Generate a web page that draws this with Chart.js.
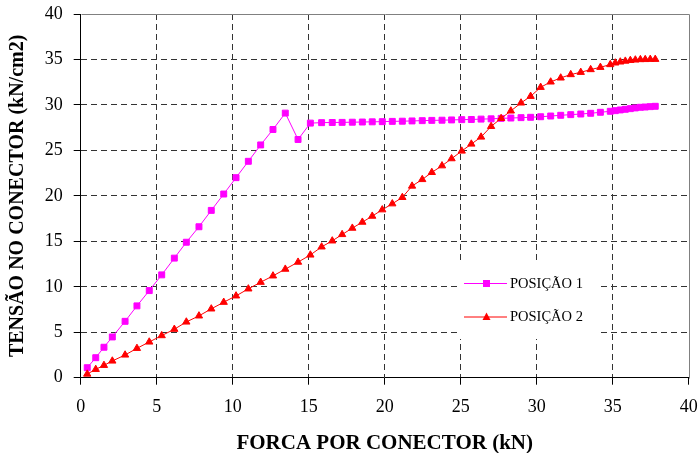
<!DOCTYPE html>
<html>
<head>
<meta charset="utf-8">
<script src="https://cdn.jsdelivr.net/npm/chart.js"></script>
<style>
  body { margin: 0; background: #fff; }
  #wrap { width: 700px; height: 453px; position: relative; }
</style>
</head>
<body>
<div id="wrap"><canvas id="chart-tensao"></canvas></div>
<script>
// forca por conector (kN) - same load steps for both positions
var forca = [0.43, 0.99, 1.53, 2.08, 2.92, 3.70, 4.51, 5.33, 6.16, 6.95,
  7.78, 8.59, 9.41, 10.22, 11.03, 11.84, 12.65, 13.46, 14.30, 15.11,
  15.85, 16.55, 17.20, 17.87, 18.53, 19.18, 19.84, 20.50, 21.16, 21.80,
  22.47, 23.10, 23.77, 24.40, 25.07, 25.70, 26.34, 27.00, 27.66, 28.30,
  28.97, 29.60, 30.26, 30.92, 31.58, 32.24, 32.90, 33.55, 34.19, 34.84,
  35.17, 35.50, 35.83, 36.16, 36.49, 36.82, 37.14, 37.47, 37.80];

// tensao (kN/cm2)
var posicao1 = [1.1, 2.2, 3.35, 4.48, 6.2, 7.9, 9.58, 11.31, 13.15, 14.9,
  16.6, 18.4, 20.2, 22.0, 23.8, 25.6, 27.3, 29.1, 26.2, 28.0,
  28.05, 28.07, 28.08, 28.1, 28.12, 28.14, 28.16, 28.19, 28.21, 28.24,
  28.27, 28.3, 28.32, 28.35, 28.38, 28.4, 28.44, 28.47, 28.52, 28.56,
  28.6, 28.64, 28.7, 28.78, 28.86, 28.93, 29.0, 29.08, 29.19, 29.3,
  29.37, 29.45, 29.52, 29.59, 29.67, 29.74, 29.77, 29.81, 29.85];

var posicao2 = [0.4, 0.92, 1.36, 1.84, 2.5, 3.23, 3.93, 4.63, 5.33, 6.13,
  6.8, 7.57, 8.3, 9.0, 9.77, 10.5, 11.2, 11.94, 12.71, 13.5,
  14.39, 15.05, 15.75, 16.45, 17.11, 17.77, 18.47, 19.13, 19.83, 21.08,
  21.8, 22.58, 23.31, 24.09, 24.93, 25.7, 26.47, 27.64, 28.52, 29.34,
  30.22, 30.95, 31.94, 32.53, 32.97, 33.34, 33.59, 33.89, 34.14, 34.44,
  34.62, 34.73, 34.82, 34.9, 34.95, 34.99, 35.0, 35.02, 35.02];

var nomes = ['POSIÇÃO 1', 'POSIÇÃO 2'];
var ticksX = [0, 5, 10, 15, 20, 25, 30, 35, 40];
var ticksY = [0, 5, 10, 15, 20, 25, 30, 35, 40];

function pares(xs, ys) {
  return xs.map(function (x, i) { return { x: x, y: ys[i] }; });
}

var serif = "'Liberation Serif', 'Times New Roman', serif";

// gray frame on top/right of plot area
var moldura = {
  id: 'moldura',
  beforeDatasetsDraw: function (chart) {
    var a = chart.chartArea, c = chart.ctx;
    c.save();
    c.strokeStyle = '#808080';
    c.lineWidth = 1;
    c.beginPath();
    c.moveTo(Math.round(a.left) + 0.5, Math.round(a.top) + 0.5);
    c.lineTo(Math.round(a.right) + 0.5, Math.round(a.top) + 0.5);
    c.lineTo(Math.round(a.right) + 0.5, Math.round(a.bottom) + 0.5);
    c.stroke();
    c.restore();
  }
};

// legend box inside the plot
var legenda = {
  id: 'legenda',
  afterDatasetsDraw: function (chart) {
    var c = chart.ctx;
    var bx = 457, by = 261, bw = 140, bh = 78;
    c.save();
    c.fillStyle = '#fff';
    c.fillRect(bx, by, bw, bh);
    var rows = [283, 316.5];
    chart.data.datasets.forEach(function (ds, i) {
      var y = rows[i];
      c.strokeStyle = ds.borderColor;
      c.lineWidth = 1;
      c.beginPath();
      c.moveTo(464, y + 0.5);
      c.lineTo(507, y + 0.5);
      c.stroke();
      c.fillStyle = ds.backgroundColor;
      var cx = 486.5;
      if (ds.pointStyle === 'rect') {
        c.fillRect(cx - 3.5, y - 3, 7, 7);
      } else {
        c.beginPath();
        c.moveTo(cx, y - 4);
        c.lineTo(cx + 4, y + 3.5);
        c.lineTo(cx - 4, y + 3.5);
        c.closePath();
        c.fill();
      }
      c.fillStyle = '#000';
      c.font = '14.5px ' + serif;
      c.textBaseline = 'middle';
      c.textAlign = 'left';
      c.fillText(ds.label, 510, y + 1);
    });
    c.restore();
  }
};

var ctx = document.getElementById('chart-tensao').getContext('2d');

new Chart(ctx, {
  type: 'scatter',
  data: {
    datasets: [{
      label: nomes[0],
      data: pares(forca, posicao1),
      showLine: true,
      borderColor: '#ff00ff',
      backgroundColor: '#ff00ff',
      borderWidth: 1,
      pointStyle: 'rect',
      pointRadius: 4.2,
      pointBorderWidth: 1,
      order: 2
    }, {
      label: nomes[1],
      data: pares(forca, posicao2),
      showLine: true,
      borderColor: '#ff0000',
      backgroundColor: '#ff0000',
      borderWidth: 1,
      pointStyle: 'triangle',
      pointRadius: 4.2,
      pointBorderWidth: 1,
      order: 1
    }]
  },
  options: {
    responsive: true,
    maintainAspectRatio: false,
    animation: false,
    layout: {
      padding: { left: 0, right: 11.3, top: 14, bottom: 0 }
    },
    plugins: {
      legend: { display: false },
      tooltip: { enabled: false }
    },
    scales: {
      x: {
        type: 'linear',
        min: 0,
        max: 40,
        afterBuildTicks: function (scale) {
          scale.ticks = ticksX.map(function (v) { return { value: v }; });
        },
        afterFit: function (scale) {
          scale.height = 75.3;
          scale.paddingLeft = 0;
          scale.paddingRight = 0;
        },
        grid: {
          color: function (c) {
            var v = c.tick && c.tick.value;
            return (v === 0 || v === 40) ? 'rgba(0,0,0,0)' : '#333';
          },
          tickColor: '#000',
          tickLength: 7,
          lineWidth: 1
        },
        border: { display: true, color: '#000', width: 1, dash: [6, 4] },
        ticks: {
          color: '#000',
          padding: 12,
          maxRotation: 0,
          font: { family: serif, size: 18 }
        },
        title: {
          display: true,
          text: 'FORCA POR CONECTOR (kN)',
          color: '#000',
          padding: 0,
          font: { family: serif, size: 21, weight: 'bold', lineHeight: 0.9 }
        }
      },
      y: {
        type: 'linear',
        min: 0,
        max: 40,
        afterBuildTicks: function (scale) {
          scale.ticks = ticksY.map(function (v) { return { value: v }; });
        },
        afterFit: function (scale) {
          scale.width = 80.7;
          scale.paddingTop = 0;
          scale.paddingBottom = 0;
        },
        grid: {
          color: function (c) {
            var v = c.tick && c.tick.value;
            return (v === 0 || v === 40) ? 'rgba(0,0,0,0)' : '#333';
          },
          tickColor: '#000',
          tickLength: 7,
          lineWidth: 1
        },
        border: { display: true, color: '#000', width: 1, dash: [6, 4] },
        ticks: {
          color: '#000',
          padding: 11,
          font: { family: serif, size: 18 }
        },
        title: {
          display: true,
          text: 'TENSÃO NO CONECTOR (kN/cm2)',
          color: '#000',
          padding: { top: 6, bottom: 0 },
          font: { family: serif, size: 20, weight: 'bold', lineHeight: 1.2 }
        }
      }
    }
  },
  plugins: [moldura, legenda]
});
</script>
</body>
</html>
